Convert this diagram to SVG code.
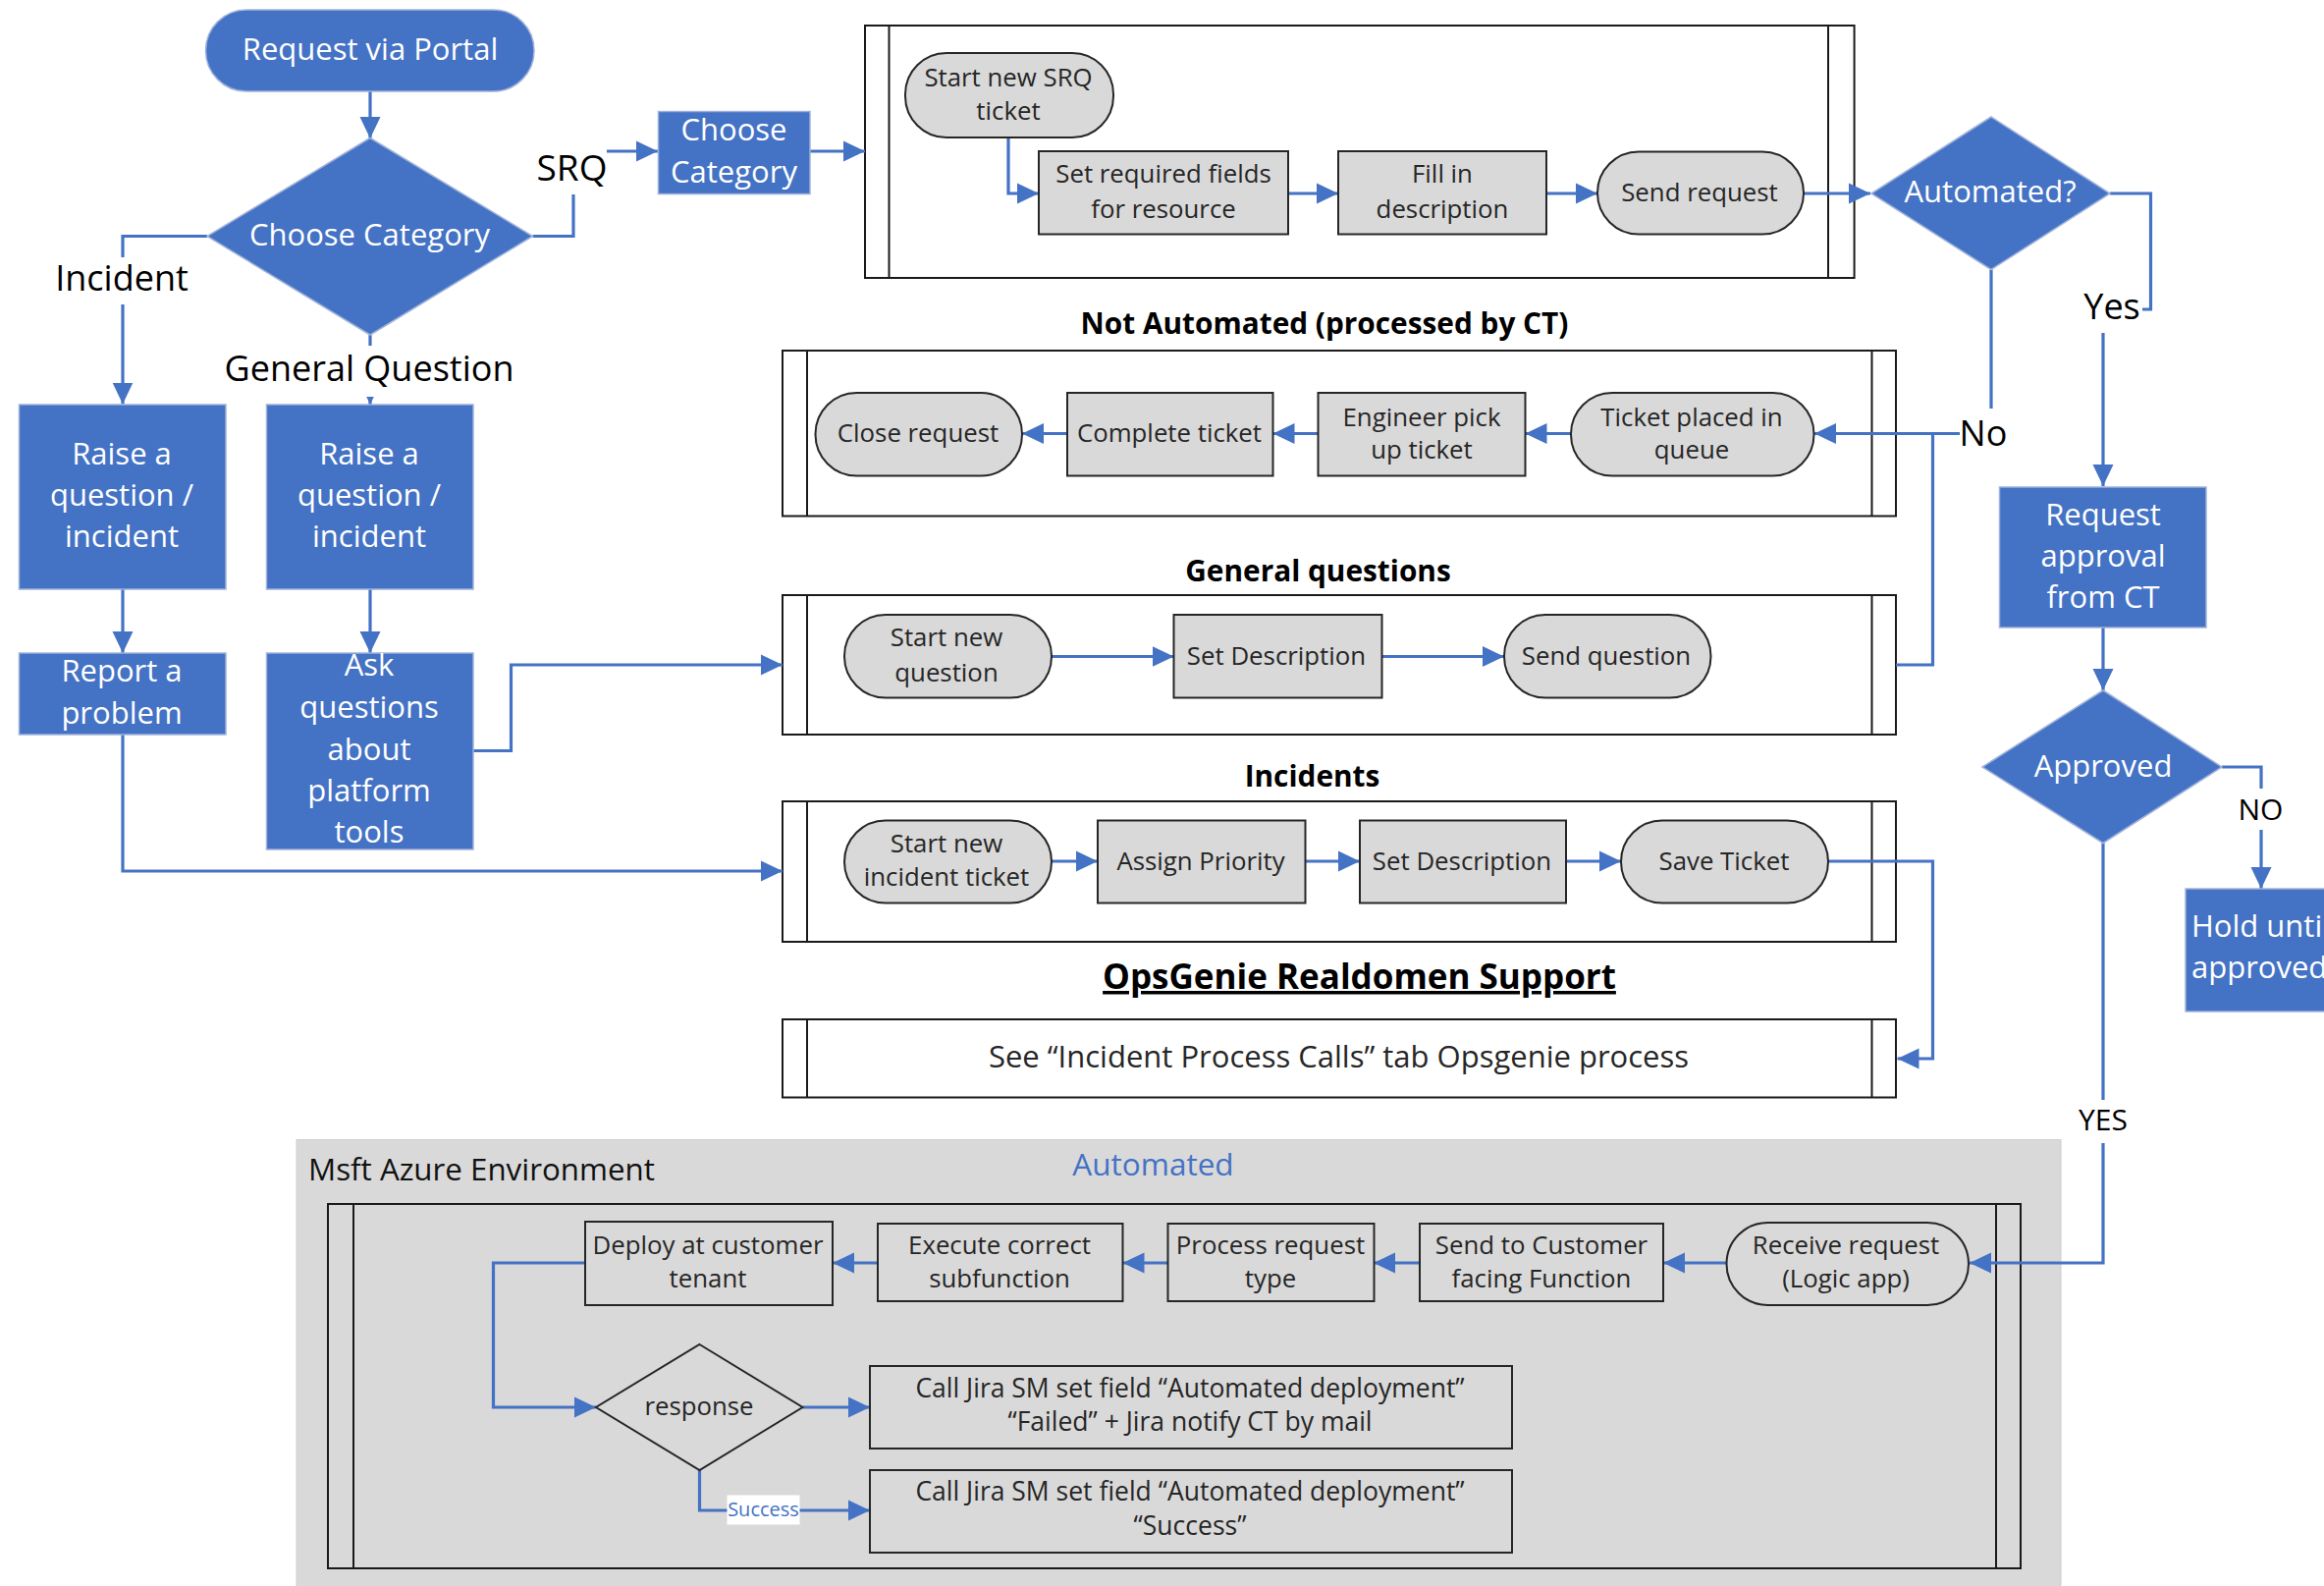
<svg xmlns="http://www.w3.org/2000/svg" width="2367" height="1615" viewBox="0 0 2367 1615">
<style>
text{font-family:"Open Sans","Noto Sans","Liberation Sans",sans-serif;text-anchor:middle}
.b{fill:#4472c4;stroke:#9fb2d9;stroke-width:1.5}
.bt{fill:#fff;font-size:31px}
.g{fill:#d9d9d9;stroke:#262626;stroke-width:2}
.gt{fill:#262626;font-size:25.8px}
.jt{fill:#262626;font-size:26.5px}
.lane{fill:#fff;stroke:#1a1a1a;stroke-width:2}
.lanea{fill:#d9d9d9;stroke:#1a1a1a;stroke-width:2}
.lab{fill:#000;font-size:36px}
.h{fill:#000;font-size:29.8px;font-weight:700}
.c{fill:none;stroke:#4472c4;stroke-width:3.2}
.a{marker-end:url(#ah)}
.w{fill:#fff;stroke:none}
</style>
<defs>
<marker id="ah" markerUnits="userSpaceOnUse" markerWidth="22" markerHeight="22" refX="22" refY="11" orient="auto"><path d="M0,0.5L22,11L0,21.5z" fill="#4472c4"/></marker>
</defs>
<rect width="2367" height="1615" fill="#fff"/>
<g id="azure-env">
<rect x="302" y="1160.5" width="1797" height="456" fill="#d9d9d9" stroke="#cfcfcf" stroke-width="1"/>
<text x="314" y="1202" style="text-anchor:start;font-size:31.3px;fill:#111">Msft Azure Environment</text>
<text x="1174.5" y="1197" style="font-size:31.5px;fill:#4472c4">Automated</text>
</g>
<g id="lanes">
<g id="lane-srq"><rect class="lane" x="881" y="26" width="1007.6" height="257"/><path class="lane" d="M905.5,26V283M1862,26V283"/></g>
<g id="lane-not-automated"><rect class="lane" x="797" y="357" width="1134" height="168.5"/><path class="lane" d="M822,357V525.5M1906.5,357V525.5"/></g>
<g id="lane-general"><rect class="lane" x="797" y="606" width="1134" height="142"/><path class="lane" d="M822,606V748M1906.5,606V748"/></g>
<g id="lane-incidents"><rect class="lane" x="797" y="816" width="1134" height="143"/><path class="lane" d="M822,816V959M1906.5,816V959"/></g>
<g id="lane-opsgenie"><rect class="lane" x="797" y="1038" width="1134" height="79.5"/><path class="lane" d="M822,1038V1117.5M1906.5,1038V1117.5"/><text x="1363.5" y="1086.5" style="font-size:31px;fill:#262626">See “Incident Process Calls” tab Opsgenie process</text></g>
<g id="lane-azure"><rect class="lanea" x="334" y="1226" width="1724" height="371"/><path class="lanea" d="M360,1226V1597M2033,1226V1597"/></g>
</g>
<text class="h" x="1349" y="339.5">Not Automated (processed by CT)</text>
<text class="h" x="1342.5" y="591.5">General questions</text>
<text class="h" x="1336.5" y="801">Incidents</text>
<text x="1384.5" y="1007" style="font-size:35px;font-weight:700;fill:#000;text-decoration:underline">OpsGenie Realdomen Support</text>
<g id="connectors">
<path class="c a" d="M377,93V141"/>
<path class="c a" d="M211,240.5H125V411.5"/>
<path class="c a" d="M377,341V412"/>
<path class="c a" d="M542.5,240.5H584V154H670"/>
<path class="c a" d="M825,154H881"/>
<path class="c a" d="M125,600V665"/>
<path class="c a" d="M377,600V665"/>
<path class="c a" d="M482,764.5H520.5V677H797"/>
<path class="c a" d="M125,748V887H797"/>
<path class="c a" d="M1027,140V197H1058"/>
<path class="c a" d="M1312,197H1363"/>
<path class="c a" d="M1575,197H1627"/>
<path class="c a" d="M1837,197H1905"/>
<path class="c a" d="M2149,197H2190.5V315H2142V495"/>
<path class="c a" d="M2142,639V703"/>
<path class="c a" d="M2028,274.5V441.5H1848"/>
<path class="c" d="M1931,677H1968.5V441.5"/>
<path class="c a" d="M1600,441.5H1553.5"/>
<path class="c a" d="M1342.5,441.5H1296.5"/>
<path class="c a" d="M1087,441.5H1041"/>
<path class="c a" d="M1071,668.5H1195.5"/>
<path class="c a" d="M1407.5,668.5H1532"/>
<path class="c a" d="M1071,877H1118"/>
<path class="c a" d="M1329.5,877H1385"/>
<path class="c a" d="M1595,877H1651"/>
<path class="c a" d="M1862,877H1968.5V1078H1932.5"/>
<path class="c a" d="M2263,781H2303V905"/>
<path class="c a" d="M2142,858.5V1286H2006"/>
<path class="c a" d="M1758.5,1286H1694"/>
<path class="c a" d="M1446,1286H1399"/>
<path class="c a" d="M1189.5,1286H1143.5"/>
<path class="c a" d="M894,1286H848"/>
<path class="c a" d="M595.5,1286H502.5V1433H607"/>
<path class="c a" d="M817.5,1433H886"/>
<path class="c a" d="M712.5,1497V1538H886"/>
</g>
<g id="start-portal"><rect class="b" x="209.5" y="10" width="334.5" height="83" rx="41.5"/><text class="bt" x="377" y="60.5">Request via Portal</text></g>
<g id="choose-category-decision"><path class="b" d="M377,140.5L542.5,240.5L377,341L211,240.5z"/><text class="bt" x="376.5" y="250">Choose Category</text></g>
<g id="label-srq"><rect class="w" x="546" y="146" width="72" height="52"/><text class="lab" x="582.5" y="183.5" style="font-size:37px">SRQ</text></g>
<g id="label-incident"><rect class="w" x="55" y="262" width="140" height="48"/><text class="lab" x="124" y="295.5">Incident</text></g>
<g id="label-general-question"><rect class="w" x="225" y="352" width="304" height="52"/><text class="lab" x="376" y="387.5">General Question</text></g>
<g id="raise-incident"><rect class="b" x="19.5" y="412" width="210.5" height="188"/><text class="bt" x="124" y="472.5">Raise a</text><text class="bt" x="124" y="514.5">question /</text><text class="bt" x="124" y="556.5">incident</text></g>
<g id="raise-question"><rect class="b" x="271.5" y="412" width="210.5" height="188"/><text class="bt" x="376" y="472.5">Raise a</text><text class="bt" x="376" y="514.5">question /</text><text class="bt" x="376" y="556.5">incident</text></g>
<g id="report-problem"><rect class="b" x="19.5" y="665" width="210.5" height="83"/><text class="bt" x="124" y="693.5">Report a</text><text class="bt" x="124" y="736.5">problem</text></g>
<g id="ask-questions"><rect class="b" x="271.5" y="665" width="210.5" height="200"/><text class="bt" x="376" y="688">Ask</text><text class="bt" x="376" y="731">questions</text><text class="bt" x="376" y="773.5">about</text><text class="bt" x="376" y="816">platform</text><text class="bt" x="376" y="858">tools</text></g>
<g id="choose-category-box"><rect class="b" x="670.5" y="113.5" width="154.5" height="84"/><text class="bt" x="747.5" y="143">Choose</text><text class="bt" x="747.5" y="186">Category</text></g>
<g id="start-srq"><rect class="g" x="922" y="54" width="212" height="86" rx="42"/><text class="gt" x="1027" y="88">Start new SRQ</text><text class="gt" x="1027" y="122">ticket</text></g>
<g id="set-fields"><rect class="g" x="1058" y="154" width="254" height="84.5"/><text class="gt" x="1185" y="186">Set required fields</text><text class="gt" x="1185" y="222">for resource</text></g>
<g id="fill-description"><rect class="g" x="1363" y="154" width="212" height="84.5"/><text class="gt" x="1469" y="186">Fill in</text><text class="gt" x="1469" y="222">description</text></g>
<g id="send-request"><rect class="g" x="1627" y="154.5" width="210" height="84" rx="42"/><text class="gt" x="1731" y="205">Send request</text></g>
<g id="automated-decision"><path class="b" d="M2028,119L2149,197L2028,274.5L1906,197z"/><text class="bt" x="2027" y="206">Automated?</text></g>
<g id="label-yes"><rect class="w" x="2122" y="290" width="60" height="49"/><text class="lab" x="2151" y="325">Yes</text></g>
<g id="label-no"><rect class="w" x="1996" y="416" width="52" height="50"/><text class="lab" x="2020" y="454">No</text></g>
<g id="request-approval"><rect class="b" x="2036.5" y="496" width="210.5" height="143"/><text class="bt" x="2142" y="534.5">Request</text><text class="bt" x="2142" y="577">approval</text><text class="bt" x="2142" y="619">from CT</text></g>
<g id="approved-decision"><path class="b" d="M2142,703L2263,781L2142,858.5L2019,781z"/><text class="bt" x="2142" y="790.5">Approved</text></g>
<g id="label-no2"><rect class="w" x="2278" y="803" width="50" height="42"/><text class="lab" x="2302.5" y="834.5" style="font-size:30px">NO</text></g>
<g id="label-yes2"><rect class="w" x="2115" y="1120" width="54" height="44"/><text class="lab" x="2142" y="1150.5" style="font-size:30px">YES</text></g>
<g id="hold"><rect class="b" x="2226" y="905" width="160" height="125"/><text class="bt" x="2232" y="953.5" style="text-anchor:start">Hold until</text><text class="bt" x="2232" y="996" style="text-anchor:start">approved</text></g>
<g id="close-request"><rect class="g" x="830.5" y="400" width="210.5" height="84.5" rx="42"/><text class="gt" x="935" y="450">Close request</text></g>
<g id="complete-ticket"><rect class="g" x="1087" y="400" width="209.5" height="84.5"/><text class="gt" x="1191" y="450">Complete ticket</text></g>
<g id="engineer-pick"><rect class="g" x="1342.5" y="400" width="211" height="84.5"/><text class="gt" x="1448" y="433.5">Engineer pick</text><text class="gt" x="1448" y="467">up ticket</text></g>
<g id="ticket-queue"><rect class="g" x="1600" y="400" width="247.5" height="84.5" rx="42"/><text class="gt" x="1723" y="433.5">Ticket placed in</text><text class="gt" x="1723" y="467">queue</text></g>
<g id="start-question"><rect class="g" x="860" y="626" width="211" height="84.5" rx="42"/><text class="gt" x="964" y="658">Start new</text><text class="gt" x="964" y="694">question</text></g>
<g id="set-description-q"><rect class="g" x="1195.5" y="626" width="212" height="84.5"/><text class="gt" x="1300" y="676.5">Set Description</text></g>
<g id="send-question"><rect class="g" x="1532" y="626" width="210.5" height="84.5" rx="42"/><text class="gt" x="1636" y="676.5">Send question</text></g>
<g id="start-incident"><rect class="g" x="860" y="835.5" width="211" height="84" rx="42"/><text class="gt" x="964" y="868">Start new</text><text class="gt" x="964" y="902">incident ticket</text></g>
<g id="assign-priority"><rect class="g" x="1118" y="835.5" width="211.5" height="84"/><text class="gt" x="1223" y="885.5">Assign Priority</text></g>
<g id="set-description-i"><rect class="g" x="1385" y="835.5" width="210" height="84"/><text class="gt" x="1489" y="885.5">Set Description</text></g>
<g id="save-ticket"><rect class="g" x="1651" y="835.5" width="211" height="84" rx="42"/><text class="gt" x="1756" y="885.5">Save Ticket</text></g>
<g id="receive-request"><rect class="g" x="1758.5" y="1245" width="246.5" height="84" rx="42"/><text class="gt" x="1880" y="1277">Receive request</text><text class="gt" x="1880" y="1311">(Logic app)</text></g>
<g id="send-customer"><rect class="g" x="1446" y="1246" width="248" height="79"/><text class="gt" x="1570" y="1277">Send to Customer</text><text class="gt" x="1570" y="1311">facing Function</text></g>
<g id="process-type"><rect class="g" x="1189.5" y="1246" width="210" height="79"/><text class="gt" x="1294" y="1277">Process request</text><text class="gt" x="1294" y="1311">type</text></g>
<g id="execute"><rect class="g" x="894" y="1246" width="249.5" height="79"/><text class="gt" x="1018" y="1277">Execute correct</text><text class="gt" x="1018" y="1311">subfunction</text></g>
<g id="deploy"><rect class="g" x="596" y="1244" width="252" height="85"/><text class="gt" x="721" y="1277">Deploy at customer</text><text class="gt" x="721" y="1311">tenant</text></g>
<g id="response"><path class="g" d="M712.5,1369L817.5,1433L712.5,1497L607,1433z" style="fill:none"/><text class="gt" x="712" y="1441">response</text></g>
<g id="failed"><rect class="g" x="886" y="1391" width="654" height="84"/><text class="jt" x="1212" y="1423">Call Jira SM set field “Automated deployment”</text><text class="jt" x="1212" y="1457">“Failed” + Jira notify CT by mail</text></g>
<g id="success"><rect class="g" x="886" y="1497" width="654" height="84"/><text class="jt" x="1212" y="1528">Call Jira SM set field “Automated deployment”</text><text class="jt" x="1212" y="1563">“Success”</text></g>
<g id="label-success"><rect class="w" x="740.5" y="1522.5" width="74" height="30"/><text x="777.5" y="1544" style="font-size:20px;fill:#4472c4">Success</text></g>
</svg>
